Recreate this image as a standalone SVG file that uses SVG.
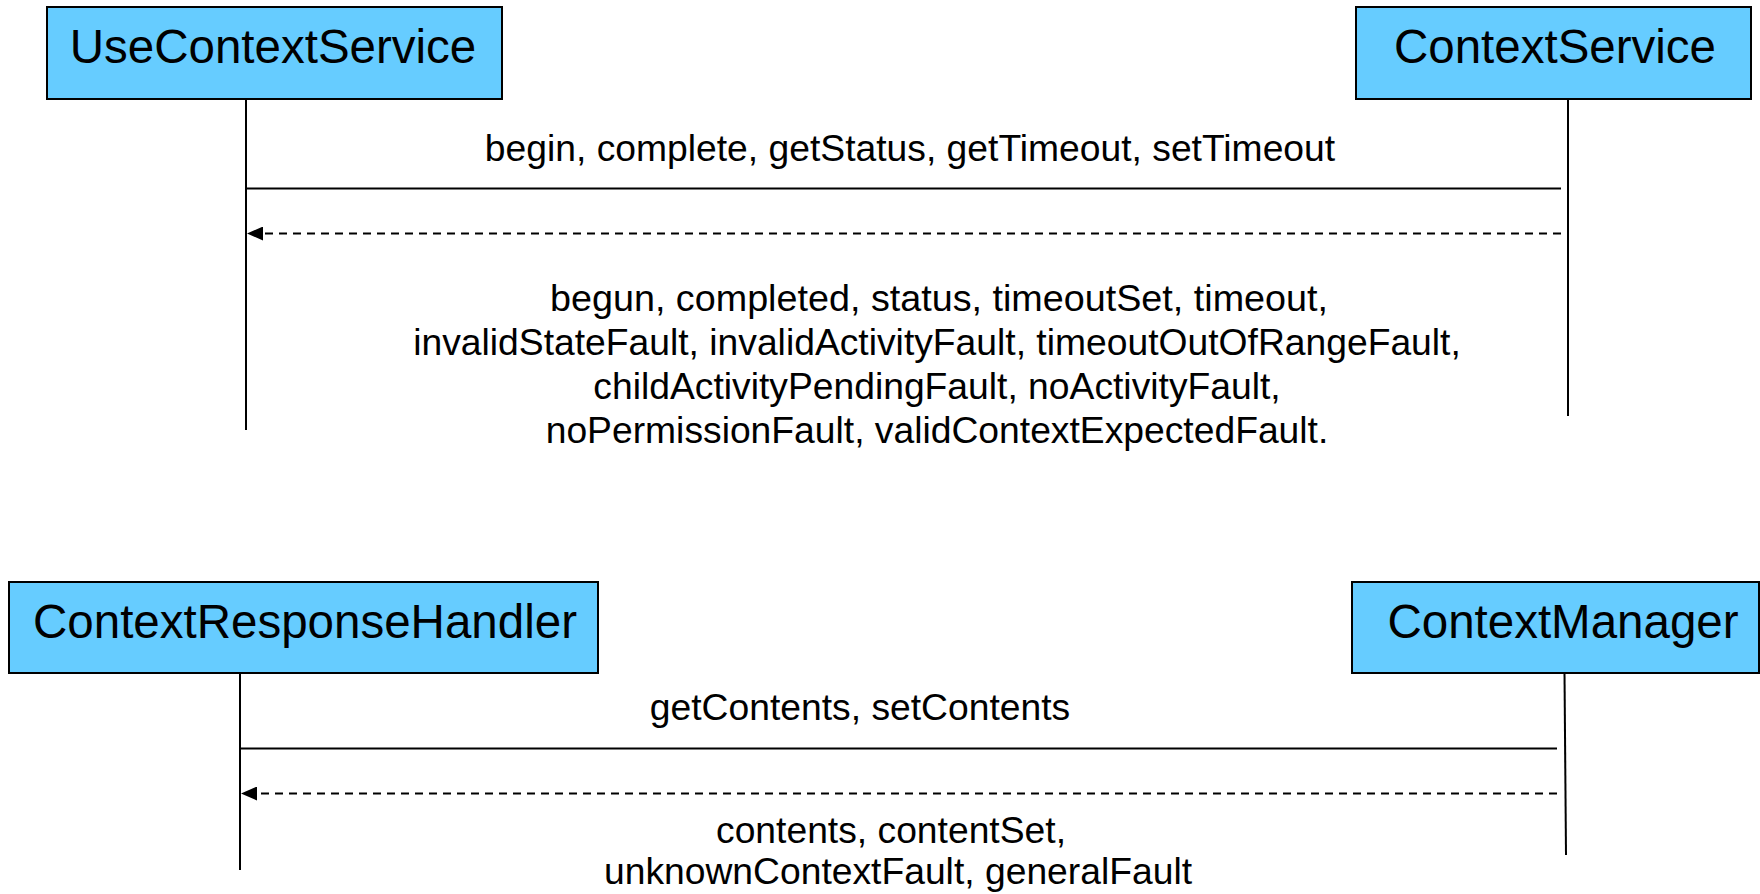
<svg xmlns="http://www.w3.org/2000/svg" width="1760" height="894" viewBox="0 0 1760 894">
  <style>
    .box { fill: #66CCFF; stroke: #000; stroke-width: 2; }
    .name { font-family: "Liberation Sans", Arial, sans-serif; font-size: 47.5px; fill: #000; text-anchor: middle; }
    .label { font-family: "Liberation Sans", Arial, sans-serif; font-size: 37.25px; fill: #000; text-anchor: middle; }
    .life { stroke: #000; stroke-width: 2; fill: none; }
    .call { stroke: #000; stroke-width: 2; fill: none; }
    .reply { stroke: #000; stroke-width: 2; fill: none; stroke-dasharray: 8 6; marker-end: url(#arrow); }
  </style>
  <defs>
    <marker id="arrow" viewBox="0 0 16 14" refX="16" refY="7" markerWidth="16" markerHeight="14" markerUnits="userSpaceOnUse" orient="auto">
      <path d="M0,0 L16,7 L0,14 Z" fill="#000"/>
    </marker>
  </defs>
  <rect width="1760" height="894" fill="#fff"/>

  <!-- upper pair -->
  <g id="use-context-service">
    <rect class="box" x="47" y="7" width="455" height="92"/>
    <text class="name" x="273" y="63">UseContextService</text>
  </g>
  <g id="context-service">
    <rect class="box" x="1356" y="7" width="395" height="92"/>
    <text class="name" x="1555" y="63">ContextService</text>
  </g>

  <!-- lower pair -->
  <g id="context-response-handler">
    <rect class="box" x="9" y="582" width="589" height="91"/>
    <text class="name" x="305" y="638">ContextResponseHandler</text>
  </g>
  <g id="context-manager">
    <rect class="box" x="1352" y="582" width="407" height="91"/>
    <text class="name" x="1563" y="638">ContextManager</text>
  </g>

  <g id="connectors">
    <!-- lifelines -->
    <line class="life" x1="246" y1="99" x2="246" y2="430"/>
    <line class="life" x1="1568" y1="99" x2="1568" y2="416"/>
    <line class="life" x1="240" y1="673" x2="240" y2="870"/>
    <line class="life" x1="1564.5" y1="673" x2="1566" y2="855"/>

    <!-- upper messages -->
    <line class="call" x1="246" y1="188.5" x2="1561" y2="188.5"/>
    <line class="reply" x1="1561" y1="233.5" x2="247" y2="233.5"/>

    <!-- lower messages -->
    <line class="call" x1="240" y1="748.5" x2="1557" y2="748.5"/>
    <line class="reply" x1="1557" y1="793.5" x2="241" y2="793.5"/>
  </g>

  <g id="labels">
    <text class="label" x="910" y="161">begin, complete, getStatus, getTimeout, setTimeout</text>
    <text class="label" x="939" y="311" textLength="778" lengthAdjust="spacingAndGlyphs">begun, completed, status, timeoutSet, timeout,</text>
    <text class="label" x="937" y="355">invalidStateFault, invalidActivityFault, timeoutOutOfRangeFault,</text>
    <text class="label" x="937" y="399">childActivityPendingFault, noActivityFault,</text>
    <text class="label" x="937" y="443">noPermissionFault, validContextExpectedFault.</text>

    <text class="label" x="860" y="720">getContents, setContents</text>
    <text class="label" x="891" y="843">contents, contentSet,</text>
    <text class="label" x="898" y="884">unknownContextFault, generalFault</text>
  </g>
</svg>
